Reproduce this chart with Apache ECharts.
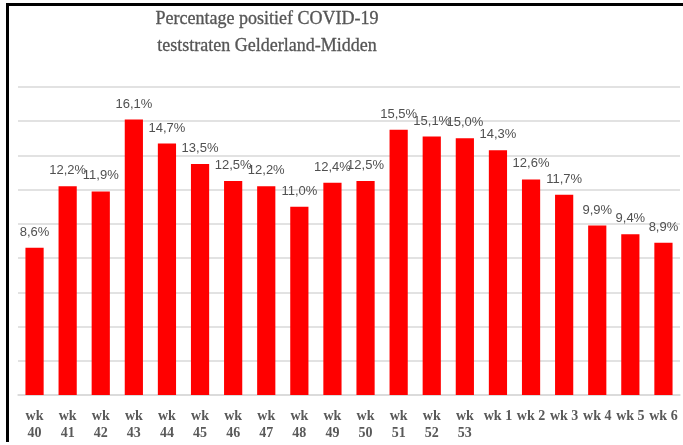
<!DOCTYPE html>
<html>
<head>
<meta charset="utf-8">
<script src="https://cdn.jsdelivr.net/npm/echarts@6/dist/echarts.min.js"></script>
<style>
  html, body { margin: 0; padding: 0; background: #fff; }
  #chart {
    position: absolute; left: 6px; top: 3px;
    width: 674px; height: 436px;
    border-left: 3px solid #000; border-top: 3px solid #000;
  }
</style>
</head>
<body>
<div id="chart"></div>
<script>
// week labels (x axis)
var weeks = ['wk 40', 'wk 41', 'wk 42', 'wk 43', 'wk 44', 'wk 45', 'wk 46', 'wk 47', 'wk 48', 'wk 49',
  'wk 50', 'wk 51', 'wk 52', 'wk 53', 'wk 1', 'wk 2', 'wk 3', 'wk 4', 'wk 5', 'wk 6']
// percentage positive tests
var positief = [8.6, 12.2, 11.9, 16.1, 14.7, 13.5, 12.5, 12.2, 11.0, 12.4,
  12.5, 15.5, 15.1, 15.0, 14.3, 12.6, 11.7, 9.9, 9.4, 8.9]
var titleText = 'Percentage positief COVID-19\nteststraten Gelderland-Midden'

var myChart = echarts.init(document.getElementById('chart'))
var option = {
  backgroundColor: '#fff',
  animation: false,
  title: {
    text: titleText,
    left: 258,
    top: 0,
    padding: 0,
    textAlign: 'center',
    textStyle: {
      fontFamily: 'Liberation Serif',
      fontSize: 18,
      fontWeight: 'normal',
      color: '#555555',
      lineHeight: 27,
      textBorderColor: '#555555',
      textBorderWidth: 0.3
    }
  },
  grid: { left: 9, right: 3, top: 81, bottom: 47 },
  xAxis: {
    type: 'category',
    data: weeks,
    axisLine: { lineStyle: { color: '#d9d9d9', width: 1.5 } },
    axisTick: { show: false },
    axisLabel: {
      interval: 0,
      margin: 13,
      fontFamily: 'Liberation Serif',
      fontWeight: 'bold',
      fontSize: 14,
      lineHeight: 17,
      color: '#595959',
      formatter: function (v) {
        // two-digit weeks wrap onto two lines
        return v.length > 4 ? v.replace(' ', '\n') : v
      }
    }
  },
  yAxis: {
    type: 'value',
    min: 0,
    max: 18,
    interval: 2,
    axisLabel: { show: false },
    axisLine: { show: false },
    axisTick: { show: false },
    splitLine: { lineStyle: { color: '#d9d9d9', width: 1.5 } }
  },
  series: [
    {
      type: 'bar',
      data: positief,
      barWidth: '55%',
      itemStyle: { color: '#ff0000' },
      label: {
        show: true,
        position: 'top',
        distance: 9,
        fontFamily: 'Liberation Sans',
        fontSize: 13,
        color: '#505050',
        formatter: function (p) {
          return p.value.toFixed(1).replace('.', ',') + '%'
        }
      }
    }
  ]
}
myChart.setOption(option)
</script>
</body>
</html>
